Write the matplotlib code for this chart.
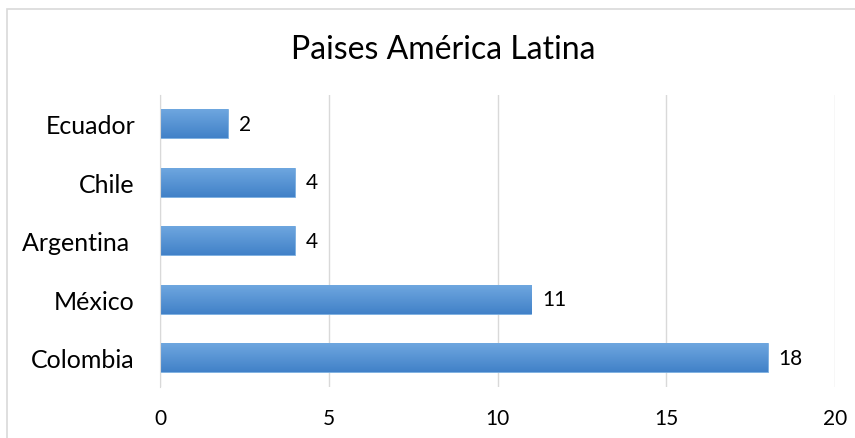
import matplotlib
matplotlib.use("Agg")
import matplotlib.pyplot as plt
import numpy as np
from matplotlib.colors import LinearSegmentedColormap

categories = ["Colombia", "México", "Argentina ", "Chile", "Ecuador"]
values = [18, 11, 4, 4, 2]
xticks = [0, 5, 10, 15, 20]
title = "Paises América Latina"

plt.rcParams['font.family'] = ['Lato', 'DejaVu Sans']

fig = plt.figure(figsize=(8.55, 4.39), dpi=100)
# chart border
fig.patches.append(plt.Rectangle((7/855, -0.01), 1.0, 1 - 10/439 + 0.01, transform=fig.transFigure,
                                 fill=False, edgecolor="#D9D9D9", linewidth=1.2))
ax = fig.add_axes([160/855, 1 - 388/439, (835-160)/855, (388-95.5)/439])

y = np.arange(len(categories))
bars = ax.barh(y, values, height=0.5, color="#5B9BD5", edgecolor="#7AAEE0", linewidth=0.6, zorder=2)

cmap = LinearSegmentedColormap.from_list("g", ["#4181C8", "#70A8E0"])
grad = np.linspace(0, 1, 256).reshape(-1, 1)
for b in bars:
    x0, y0 = b.get_x(), b.get_y()
    w, h = b.get_width(), b.get_height()
    im = ax.imshow(grad, extent=(x0, x0 + w, y0, y0 + h), origin="lower", cmap=cmap,
                   aspect="auto", zorder=3)
    im.set_clip_path(b)

ax.set_xlim(0, 20)
ax.set_ylim(-0.5, len(categories) - 0.5)
ax.set_xticks(xticks)
ax.set_yticks(y)
ax.set_yticklabels(categories)
ax.tick_params(axis="both", length=0, colors="#000000")
ax.tick_params(axis="x", pad=15, labelsize=15)
ax.tick_params(axis="y", pad=18, labelsize=18)
ax.grid(axis="x", color="#D9D9D9", linewidth=1, zorder=0)
for s in ["top", "right", "bottom"]:
    ax.spines[s].set_visible(False)
ax.spines["left"].set_color("#D9D9D9")
ax.spines["left"].set_zorder(4)

for yi, v in zip(y, values):
    ax.annotate(str(v), (v, yi), xytext=(8, 0), textcoords="offset points",
                va="center", ha="left", fontsize=15)

fig.text(0.518, 1 - 50/439, title, ha="center", va="center", fontsize=23)

fig.savefig("out.png", dpi=100)
